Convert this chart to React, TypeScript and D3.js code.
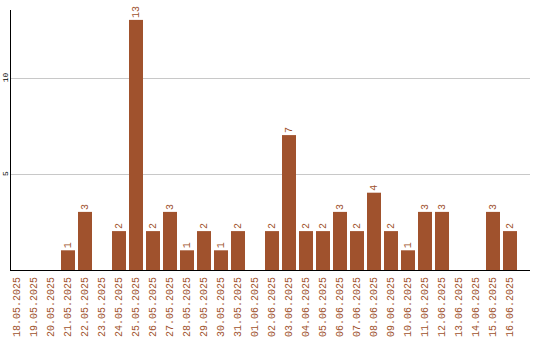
import React from "react";
import * as d3 from "d3";

const dates = [
  "18.05.2025","19.05.2025","20.05.2025","21.05.2025","22.05.2025","23.05.2025","24.05.2025",
  "25.05.2025","26.05.2025","27.05.2025","28.05.2025","29.05.2025","30.05.2025","31.05.2025",
  "01.06.2025","02.06.2025","03.06.2025","04.06.2025","05.06.2025","06.06.2025","07.06.2025",
  "08.06.2025","09.06.2025","10.06.2025","11.06.2025","12.06.2025","13.06.2025","14.06.2025",
  "15.06.2025","16.06.2025",
];
const counts = [0,0,0,1,3,0,2,13,2,3,1,2,1,2,0,2,7,2,2,3,2,4,2,1,3,3,0,0,3,2];
const yTicks = [5, 10];

const W = 540, H = 340;
const left = 10, right = 530, bandEnd = 520;
const baseY = 269.5, topY = 10.3;
const COLOR = "#a0522d";
const MONO = "'Liberation Mono', 'Courier New', monospace";

export default function App() {
  const x = d3.scaleBand<string>().domain(dates).range([left, bandEnd]).padding(0);
  const y = d3.scaleLinear().domain([0, 13.5]).range([baseY, topY]);
  const bw = x.bandwidth() * 14 / 17;
  return (
    <svg width={W} height={H} style={{ position: "absolute", left: 0, top: 0 }}>
      {yTicks.map((t) => (
        <g key={t}>
          <line x1={left} x2={right} y1={Math.round(y(t)) + 0.5} y2={Math.round(y(t)) + 0.5} stroke="#c8c8c8" strokeWidth={1} />
          <text
            transform={`translate(5,${y(t)}) rotate(-90)`}
            textAnchor="middle"
            dominantBaseline="central"
            fontFamily={MONO}
            fontSize={8}
            fill="#000"
          >
            {t}
          </text>
        </g>
      ))}
      {dates.map((d, i) => {
        const v = counts[i];
        const bx = x(d)!;
        const cx = bx + bw / 2;
        return (
          <g key={d}>
            {v > 0 && (
              <>
                <rect x={bx} y={y(v)} width={bw} height={270 - y(v)} fill={COLOR} />
                <text
                  transform={`translate(${cx},${y(v) - 2}) rotate(-90)`}
                  textAnchor="start"
                  dominantBaseline="central"
                  fontFamily={MONO}
                  fontSize={10}
                  fill={COLOR}
                >
                  {v}
                </text>
              </>
            )}
            <text
              transform={`translate(${cx},277) rotate(-90)`}
              textAnchor="end"
              dominantBaseline="central"
              fontFamily={MONO}
              fontSize={10}
              fill={COLOR}
            >
              {d}
            </text>
          </g>
        );
      })}
      <line x1={10.5} x2={10.5} y1={10} y2={271} stroke="#000" strokeWidth={1} />
      <line x1={10} x2={right} y1={270.5} y2={270.5} stroke="#000" strokeWidth={1} />
    </svg>
  );
}
